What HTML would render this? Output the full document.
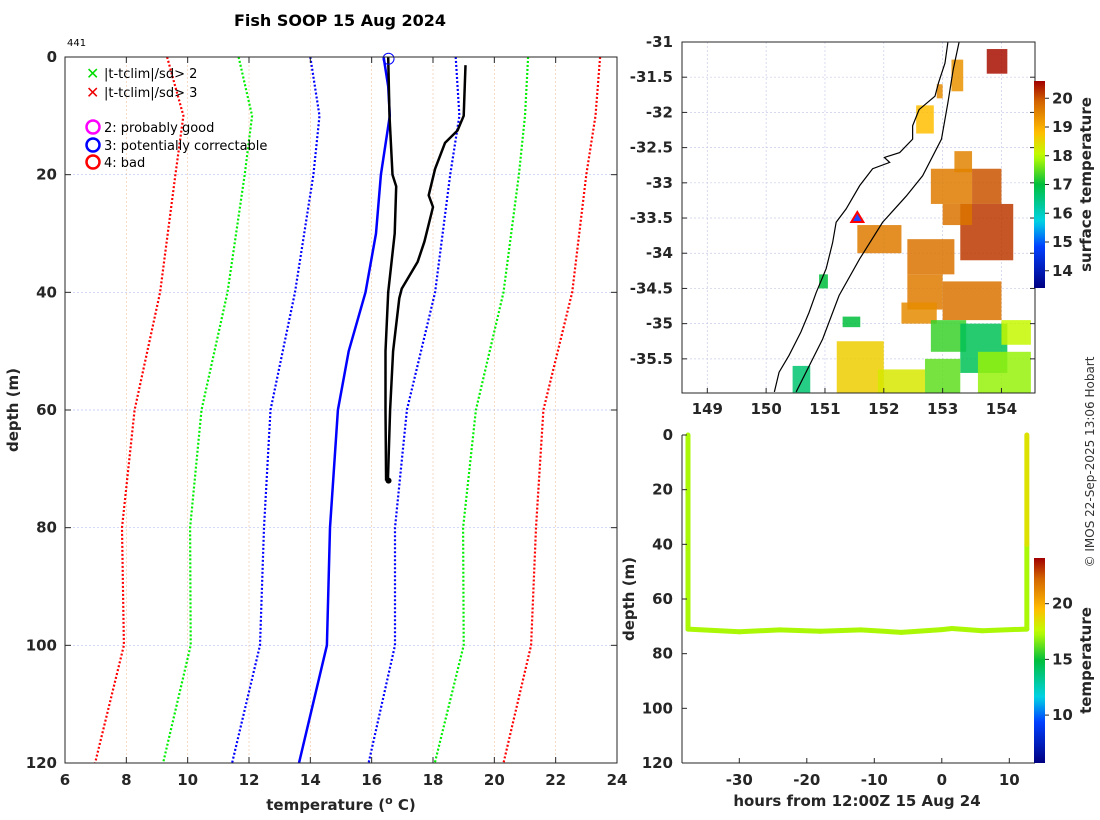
<!DOCTYPE html>
<html><head><meta charset="utf-8"><style>
body{margin:0;background:#fff;}
svg{display:block;font-family:"DejaVu Sans","Liberation Sans",sans-serif;}
.tk{font-size:15px;font-weight:bold;fill:#262626;}
</style></head><body>
<svg id="fig" width="1100" height="820" viewBox="0 0 1100 820" xmlns="http://www.w3.org/2000/svg">
<rect width="1100" height="820" fill="#fff"/>
<text x="340" y="26" text-anchor="middle" font-size="16" font-weight="bold" fill="#000">Fish SOOP 15 Aug 2024</text>
<text x="67" y="46" font-size="10" fill="#000">441</text>
<g id="prof"></g>
<g id="map"></g>
<g id="ts"></g>
<text transform="translate(1094,462) rotate(-90)" text-anchor="middle" font-size="12" fill="#333">© IMOS 22-Sep-2025 13:06 Hobart</text>
</svg>
<script>
const NS="http://www.w3.org/2000/svg";
function mk(parent,tag,attrs,txt){const e=document.createElementNS(NS,tag);for(const k in attrs)e.setAttribute(k,attrs[k]);if(txt!==undefined)e.textContent=txt;parent.appendChild(e);return e;}

// ---- profile data ----
const depthLevels=[0,10,20,40,60,80,100,120];
const climRedLo=[9.33,9.86,9.6,9.1,8.27,7.86,7.92,6.98];
const climGreenLo=[11.66,12.1,11.86,11.3,10.45,10.08,10.1,9.2];
const climBlueLo=[14.0,14.3,14.1,13.5,12.7,12.49,12.36,11.45];
const climBlueHi=[18.74,18.86,18.56,18.07,17.15,16.76,16.76,15.9];
const climGreenHi=[21.1,21.0,20.8,20.3,19.4,18.98,19.0,18.06];
const climRedHi=[23.45,23.3,23.0,22.54,21.6,21.36,21.2,20.3];
const meanDepth=[0,5,10,20,30,40,50,60,80,100,120];
const meanTemp=[16.39,16.54,16.59,16.3,16.14,15.8,15.25,14.9,14.64,14.54,13.63];
const obsDepth=[0,10,20,22,30,40,50,60,72];
const obsTemp=[16.54,16.58,16.68,16.8,16.75,16.54,16.45,16.45,16.47];
const obs2Depth=[1.4,10,12.5,14.6,19,23.5,25.5,31.4,34.8,39.4,41,50,60,72];
const obs2Temp=[19.06,19.0,18.8,18.39,18.07,17.86,18.0,17.72,17.5,16.98,16.9,16.7,16.6,16.53];
const xTicks=[6,8,10,12,14,16,18,20,22,24];
const yTicks=[0,20,40,60,80,100,120];

const P={l:65,r:617,t:57,b:763};
const px=v=>P.l+(v-6)/(24-6)*(P.r-P.l);
const py=d=>P.t+d/120*(P.b-P.t);
const prof=document.getElementById('prof');
xTicks.forEach(v=>{const g=mk(prof,'line',{x1:px(v),x2:px(v),y1:P.t,y2:P.b,stroke:'#f0c8a8','stroke-width':0.7,'stroke-dasharray':'2,2'});});
yTicks.forEach(v=>{const g=mk(prof,'line',{x1:P.l,x2:P.r,y1:py(v),y2:py(v),stroke:'#b8c4f0','stroke-width':0.7,'stroke-dasharray':'2,2'});});
function line(xs,ys,col,w,dash,name){
  const pts=xs.map((t,i)=>px(t).toFixed(1)+','+py(ys[i]).toFixed(1)).join(' ');
  const e=mk(prof,'polyline',{points:pts,fill:'none',stroke:col,'stroke-width':w,'stroke-dasharray':dash||'none','stroke-linejoin':'round'});
  
  
}
line(climRedLo,depthLevels,'#ff0000',2.2,'2,2','clim-3sd-low');
line(climGreenLo,depthLevels,'#00ee00',2.2,'2,2','clim-2sd-low');
line(climBlueLo,depthLevels,'#0000ff',2.2,'2,2','clim-1sd-low');
line(climBlueHi,depthLevels,'#0000ff',2.2,'2,2','clim-1sd-high');
line(climGreenHi,depthLevels,'#00ee00',2.2,'2,2','clim-2sd-high');
line(climRedHi,depthLevels,'#ff0000',2.2,'2,2','clim-3sd-high');
line(meanTemp,meanDepth,'#0000ff',2.5,null,'clim-mean');
line(obs2Temp,obs2Depth,'#000',2.5,null,'observed-profile-2');
line(obsTemp,obsDepth,'#000',2.5,null,'observed-profile');
let e=mk(prof,'circle',{cx:px(16.55),cy:py(72),r:3,fill:'#000'});

e=mk(prof,'circle',{cx:px(16.55),cy:py(0.3),r:5.5,fill:'none',stroke:'#0000ff','stroke-width':1});

e=mk(prof,'rect',{x:P.l,y:P.t,width:P.r-P.l,height:P.b-P.t,fill:'none',stroke:'#262626','stroke-width':1});

xTicks.forEach(v=>{mk(prof,'line',{x1:px(v),x2:px(v),y1:P.b,y2:P.b-6,stroke:'#262626'});mk(prof,'line',{x1:px(v),x2:px(v),y1:P.t,y2:P.t+6,stroke:'#262626'});
 const t=mk(prof,'text',{x:px(v),y:P.b+22,'text-anchor':'middle',class:'tk'},String(v));});
yTicks.forEach(v=>{mk(prof,'line',{x1:P.l,x2:P.l+6,y1:py(v),y2:py(v),stroke:'#262626'});mk(prof,'line',{x1:P.r,x2:P.r-6,y1:py(v),y2:py(v),stroke:'#262626'});
 const t=mk(prof,'text',{x:P.l-8,y:py(v)+5,'text-anchor':'end',class:'tk'},String(v));});
e=mk(prof,'text',{x:341,y:810,'text-anchor':'middle',class:'tk','font-size':16},'');
e.innerHTML='temperature (<tspan font-size="11" dy="-6">o</tspan><tspan dy="6"> C)</tspan>';

e=mk(prof,'text',{transform:'translate(18,410) rotate(-90)','text-anchor':'middle',class:'tk','font-size':16},'depth (m)');

// legend
const leg=mk(prof,'g',{});
mk(leg,'text',{x:86,y:79,fill:'#00dd00','font-size':16,'font-weight':'bold'},'✕');
mk(leg,'text',{x:104,y:78,'font-size':13,fill:'#000'},'|t-tclim|/sd> 2');
mk(leg,'text',{x:86,y:98,fill:'#ee0000','font-size':16,'font-weight':'bold'},'✕');
mk(leg,'text',{x:104,y:97,'font-size':13,fill:'#000'},'|t-tclim|/sd> 3');
[['#ff00ff','2: probably good',127],['#0000ff','3: potentially correctable',145],['#ff0000','4: bad',162]].forEach(a=>{
 mk(leg,'circle',{cx:93,cy:a[2],r:6.5,fill:'none',stroke:a[0],'stroke-width':2.5});
 mk(leg,'text',{x:104,y:a[2]+5,'font-size':13,fill:'#000'},a[1]);});

// ---- colormap ----
const CM=[[0,0,0,128],[0.2,0,64,255],[0.32,0,210,230],[0.5,0,190,60],[0.64,190,255,0],[0.75,255,190,0],[0.9,210,100,0],[1,160,0,0]];
function jet(t){t=Math.max(0,Math.min(1,t));for(let i=0;i<CM.length-1;i++){const a=CM[i],b=CM[i+1];if(t<=b[0]){const f=(t-a[0])/(b[0]-a[0]);return `rgb(${Math.round(a[1]+f*(b[1]-a[1]))},${Math.round(a[2]+f*(b[2]-a[2]))},${Math.round(a[3]+f*(b[3]-a[3]))})`;}}return 'rgb(160,0,0)';}

// ---- map ----
const mapLonTicks=[149,150,151,152,153,154];
const mapLatTicks=[-31,-31.5,-32,-32.5,-33,-33.5,-34,-34.5,-35,-35.5];
const sstLon0=[153.15,153.75,152.55,152.9,152.8,153.2,153.5,153.3,153.0,151.55,152.4,152.4,153.0,152.3,152.8,153.3,154.0,153.6,151.2,151.9,152.7,150.45,150.9,151.3];
const sstLat0=[-31.25,-31.1,-31.9,-31.6,-32.8,-32.55,-32.8,-33.3,-33.3,-33.6,-33.8,-34.3,-34.4,-34.7,-34.95,-35.0,-34.95,-35.4,-35.25,-35.65,-35.5,-35.6,-34.3,-34.9];
const sstLon1=[153.35,154.1,152.85,153.0,153.5,153.5,154.0,154.2,153.5,152.3,153.2,153.0,154.0,152.9,153.4,154.1,154.5,154.5,152.0,152.7,153.3,150.75,151.05,151.6];
const sstLat1=[-31.7,-31.45,-32.3,-31.8,-33.3,-32.85,-33.3,-34.1,-33.6,-34.0,-34.3,-34.8,-34.95,-35.0,-35.4,-35.7,-35.3,-35.98,-35.98,-35.98,-35.98,-35.98,-34.5,-35.05];
const sstVal=[19.3,20.5,18.8,19.4,19.6,19.5,20.0,20.2,19.7,19.6,19.7,19.6,19.7,19.4,17.3,16.8,18.1,17.8,18.6,18.3,17.5,16.6,17.0,17.0];
const coastLon=[153.09,153.04,152.93,152.87,152.6,152.49,152.49,152.27,152.01,152.1,151.81,151.59,151.36,151.19,151.13,151.02,150.85,150.73,150.59,150.39,150.22,150.14];
const coastLat=[-31,-31.3,-31.58,-31.77,-31.96,-32.19,-32.38,-32.57,-32.64,-32.71,-32.8,-33.04,-33.37,-33.56,-33.85,-34.22,-34.56,-34.84,-35.12,-35.45,-35.69,-35.97];
const isoLon=[153.28,153.18,153.09,152.98,152.66,152.38,151.98,151.59,151.24,150.96,150.51];
const isoLat=[-31,-31.39,-31.86,-32.38,-32.9,-33.19,-33.56,-34.08,-34.6,-35.22,-35.97];
const sstCbTicks=[14,15,16,17,18,19,20];
const M={l:682,r:1035,t:42,b:393,lon0:148.57,lon1:154.57,lat0:-31,lat1:-35.985};
const mx=v=>M.l+(v-M.lon0)/(M.lon1-M.lon0)*(M.r-M.l);
const my=v=>M.t+(v-M.lat0)/(M.lat1-M.lat0)*(M.b-M.t);
const map=document.getElementById('map');
const cmin=13.4,cmax=20.6;
mapLonTicks.forEach(v=>{mk(map,'line',{x1:mx(v),x2:mx(v),y1:M.t,y2:M.b,stroke:'#c8cce8','stroke-width':0.7,'stroke-dasharray':'2,2'});});
mapLatTicks.forEach(v=>{mk(map,'line',{x1:M.l,x2:M.r,y1:my(v),y2:my(v),stroke:'#c8cce8','stroke-width':0.7,'stroke-dasharray':'2,2'});});
sstVal.forEach((v,i)=>{const x0=mx(sstLon0[i]),x1=mx(sstLon1[i]),y0=my(sstLat0[i]),y1=my(sstLat1[i]);
 const r=mk(map,'rect',{x:x0,y:y0,width:x1-x0,height:y1-y0,fill:jet((v-cmin)/(cmax-cmin)),opacity:0.85});
 
 });
e=mk(map,'polyline',{points:coastLon.map((v,i)=>mx(v)+','+my(coastLat[i])).join(' '),fill:'none',stroke:'#000','stroke-width':1.2});

e=mk(map,'polyline',{points:isoLon.map((v,i)=>mx(v)+','+my(isoLat[i])).join(' '),fill:'none',stroke:'#000','stroke-width':1.2});

const tx=mx(151.55),ty=my(-33.5);
e=mk(map,'polygon',{points:`${tx},${ty-6} ${tx-6},${ty+4} ${tx+6},${ty+4}`,fill:'#2244ff',stroke:'#ff0000','stroke-width':2});

mk(map,'rect',{x:M.l,y:M.t,width:M.r-M.l,height:M.b-M.t,fill:'none',stroke:'#262626'});
mapLonTicks.forEach(v=>{mk(map,'line',{x1:mx(v),x2:mx(v),y1:M.b,y2:M.b-5,stroke:'#262626'});const t=mk(map,'text',{x:mx(v),y:M.b+21,'text-anchor':'middle',class:'tk'},String(v));});
mapLatTicks.forEach(v=>{mk(map,'line',{x1:M.l,x2:M.l+5,y1:my(v),y2:my(v),stroke:'#262626'});mk(map,'line',{x1:M.r,x2:M.r-5,y1:my(v),y2:my(v),stroke:'#262626'});const t=mk(map,'text',{x:M.l-9,y:my(v)+5,'text-anchor':'end',class:'tk'},String(v));});
function colorbar(parent,x,y0,y1,vmin,vmax,ticks,label,id){
 const defs=mk(parent,'defs',{});const lg=mk(defs,'linearGradient',{id:id,x1:0,y1:1,x2:0,y2:0});
 for(let i=0;i<=40;i++)mk(lg,'stop',{offset:i/40,'stop-color':jet(i/40)});
 const r=mk(parent,'rect',{x:x,y:y0,width:11,height:y1-y0,fill:`url(#${id})`});
 
 ticks.forEach(v=>{const yy=y1-(v-vmin)/(vmax-vmin)*(y1-y0);mk(parent,'line',{x1:x+11,x2:x+15,y1:yy,y2:yy,stroke:'#262626'});const t=mk(parent,'text',{x:x+18,y:yy+5,class:'tk'},String(v));});
 const t=mk(parent,'text',{transform:`translate(${x+57},${(y0+y1)/2}) rotate(-90)`,'text-anchor':'middle',class:'tk'},label);
 
}
colorbar(map,1034,81,288,cmin,cmax,sstCbTicks,'surface temperature','g1');

// ---- depth-time ----
const tsHours=[-37.6,-37.6,-30,-24,-18,-12,-6,0,1.5,6,12.6,12.6,12.6];
const tsDepth=[0,71,72,71.3,71.8,71.3,72.2,71.2,70.8,71.6,71,40,0];
const tsTemp=[17.2,17.2,17.2,17.2,17.2,17.2,17.2,17.2,17.2,17.2,17.2,18.4,18.4];
const tsXTicks=[-30,-20,-10,0,10];
const tsYTicks=[0,20,40,60,80,100,120];
const tCbTicks=[10,15,20];
const T={l:682,r:1035,t:435,b:763};
const hx=h=>941.8+h*6.75;
const hy=d=>T.t+d/120*(T.b-T.t);
const ts=document.getElementById('ts');
const tmin=5.7,tmax=24.1;
for(let i=0;i<tsHours.length-1;i++){
 const s=mk(ts,'line',{x1:hx(tsHours[i]),y1:hy(tsDepth[i]),x2:hx(tsHours[i+1]),y2:hy(tsDepth[i+1]),stroke:jet((tsTemp[i]-tmin)/(tmax-tmin)),'stroke-width':5,'stroke-linecap':'round'});
 
 
}
mk(ts,'line',{x1:T.l,x2:T.l,y1:T.t,y2:T.b,stroke:'#262626'});
mk(ts,'line',{x1:T.l,x2:T.r,y1:T.b,y2:T.b,stroke:'#262626'});
tsXTicks.forEach(v=>{mk(ts,'line',{x1:hx(v),x2:hx(v),y1:T.b,y2:T.b-5,stroke:'#262626'});const t=mk(ts,'text',{x:hx(v),y:T.b+22,'text-anchor':'middle',class:'tk'},String(v));});
tsYTicks.forEach(v=>{mk(ts,'line',{x1:T.l,x2:T.l+5,y1:hy(v),y2:hy(v),stroke:'#262626'});const t=mk(ts,'text',{x:T.l-9,y:hy(v)+5,'text-anchor':'end',class:'tk'},String(v));});
e=mk(ts,'text',{x:857,y:806,'text-anchor':'middle',class:'tk','font-size':16},'hours from 12:00Z 15 Aug 24');

e=mk(ts,'text',{transform:'translate(634,599) rotate(-90)','text-anchor':'middle',class:'tk','font-size':16},'depth (m)');

colorbar(ts,1034,558,763,tmin,tmax,tCbTicks,'temperature','g2');
</script>
</body></html>
